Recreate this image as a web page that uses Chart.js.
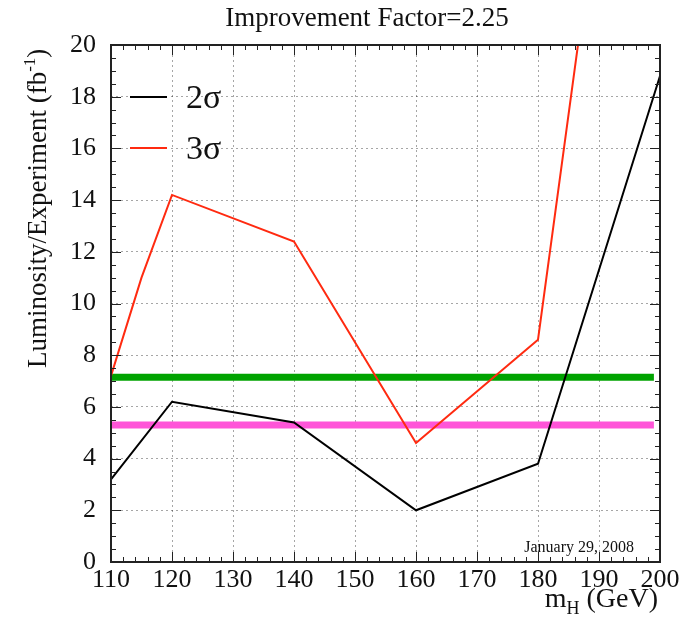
<!DOCTYPE html>
<html>
<head>
<meta charset="utf-8">
<script src="https://cdn.jsdelivr.net/npm/chart.js@4"></script>
<style>
  html, body { margin: 0; padding: 0; background: #fff; }
  #wrap { width: 691px; height: 619px; }
</style>
</head>
<body>
<div id="wrap"><canvas id="plot"></canvas></div>
<script>
// Higgs mass points (GeV) and luminosity per experiment (fb^-1)
const mass2 = [110, 120, 140, 160, 180, 200];
const lumi2 = [3.2, 6.2, 5.4, 2.0, 3.8, 18.8];
const mass3 = [110, 115, 120, 140, 160, 180, 190];
const lumi3 = [7.2, 11.0, 14.2, 12.4, 4.6, 8.6, 26.0];
const levelRange = [110, 199];
const greenLevel = 7.15;
const pinkLevel = 5.3;
const xTicks = [110, 120, 130, 140, 150, 160, 170, 180, 190, 200];
const yTicks = [0, 2, 4, 6, 8, 10, 12, 14, 16, 18, 20];

const SERIF = '"Liberation Serif", "DejaVu Serif", serif';

function pts(xs, ys) { return xs.map((x, i) => ({ x: x, y: ys[i] })); }

const decor = {
  id: 'decor',
  afterDraw(chart) {
    const ctx = chart.ctx;
    const a = chart.chartArea;
    const xs = chart.scales.x, ys = chart.scales.y;
    ctx.save();
    ctx.setLineDash([]);
    // inward ticks on all sides
    ctx.strokeStyle = '#222';
    ctx.lineWidth = 1;
    ctx.beginPath();
    for (let v = 110; v <= 200; v += 2) {
      const px = Math.round(xs.getPixelForValue(v)) + 0.5;
      const len = (v % 10 === 0) ? 10 : 5;
      ctx.moveTo(px, a.bottom); ctx.lineTo(px, a.bottom - len);
      ctx.moveTo(px, a.top); ctx.lineTo(px, a.top + len);
    }
    for (let v = 0; v <= 20; v += 0.5) {
      const py = Math.round(ys.getPixelForValue(v)) + 0.5;
      const len = (v % 2 === 0) ? 10 : 5;
      ctx.moveTo(a.left, py); ctx.lineTo(a.left + len, py);
      ctx.moveTo(a.right, py); ctx.lineTo(a.right - len, py);
    }
    ctx.stroke();
    // frame
    ctx.lineWidth = 2;
    ctx.strokeStyle = '#222';
    ctx.strokeRect(a.left, a.top, a.right - a.left, a.bottom - a.top);

    ctx.fillStyle = '#111';
    ctx.textBaseline = 'middle';
    // title
    ctx.font = '27px ' + SERIF;
    ctx.textAlign = 'center';
    ctx.fillText('Improvement Factor=2.25', 367, 19);

    // legend inside the frame
    const ds = chart.data.datasets;
    [0, 1].forEach((k, i) => {
      const y = 97 + i * 51;
      ctx.fillStyle = '#ffffff';
      ctx.fillRect(129, y - 2, 40, 4);
      ctx.strokeStyle = ds[k].borderColor;
      ctx.lineWidth = 2;
      ctx.beginPath(); ctx.moveTo(130, y); ctx.lineTo(167, y); ctx.stroke();
      ctx.fillStyle = '#111';
      ctx.font = '34px ' + SERIF;
      ctx.textAlign = 'left';
      ctx.fillText(ds[k].label, 186, y + 2);
    });

    // date stamp
    ctx.font = '16px ' + SERIF;
    ctx.textAlign = 'right';
    ctx.fillText('January 29, 2008', 634, 548);

    // x axis title with subscript
    ctx.textAlign = 'left';
    const big = '28px ' + SERIF, sub = '18px ' + SERIF;
    ctx.font = big; const wm = ctx.measureText('m').width;
    const wg = ctx.measureText(' (GeV)').width;
    ctx.font = sub; const wh = ctx.measureText('H').width;
    let x0 = 658 - (wm + wh + wg);
    ctx.font = big; ctx.fillText('m', x0, 600);
    ctx.font = sub; ctx.fillText('H', x0 + wm, 609);
    ctx.font = big; ctx.fillText(' (GeV)', x0 + wm + wh, 600);

    // y axis title with superscript
    ctx.translate(46, 368);
    ctx.rotate(-Math.PI / 2);
    ctx.textBaseline = 'alphabetic';
    const yf = '27px ' + SERIF, sf = '17px ' + SERIF;
    ctx.font = yf;
    const s1 = 'Luminosity/Experiment (fb';
    const w1 = ctx.measureText(s1).width;
    ctx.fillText(s1, 0, 0);
    ctx.font = sf;
    ctx.fillText('-1', w1, -11);
    const w2 = ctx.measureText('-1').width;
    ctx.font = yf;
    ctx.fillText(')', w1 + w2, 0);
    ctx.restore();
  }
};

const config = {
  type: 'scatter',
  data: {
    datasets: [
      {
        label: '2σ',
        data: pts(mass2, lumi2),
        showLine: true,
        borderColor: '#000000',
        borderWidth: 2,
        pointRadius: 0,
        clip: 0
      },
      {
        label: '3σ',
        data: pts(mass3, lumi3),
        showLine: true,
        borderColor: '#ff2a10',
        borderWidth: 2,
        pointRadius: 0,
        clip: 0
      },
      {
        label: 'green',
        data: pts(levelRange, [greenLevel, greenLevel]),
        showLine: true,
        borderColor: '#00a300',
        borderWidth: 7,
        borderCapStyle: 'butt',
        pointRadius: 0
      },
      {
        label: 'pink',
        data: pts(levelRange, [pinkLevel, pinkLevel]),
        showLine: true,
        borderColor: '#ff55d8',
        borderWidth: 7,
        borderCapStyle: 'butt',
        pointRadius: 0
      }
    ]
  },
  options: {
    responsive: true,
    maintainAspectRatio: false,
    animation: false,
    layout: { padding: { top: 45, right: 31, left: 0, bottom: 0 } },
    plugins: {
      legend: { display: false },
      tooltip: { enabled: false }
    },
    scales: {
      x: {
        type: 'linear',
        min: 110,
        max: 200,
        afterBuildTicks: (s) => { s.ticks = xTicks.map(v => ({ value: v })); },
        afterFit: (s) => { s.height = 57; },
        ticks: {
          padding: 3,
          color: '#111',
          font: { family: SERIF, size: 26 }
        },
        grid: { color: 'rgba(0,0,0,0.35)', lineWidth: 1, drawTicks: false },
        border: { display: false, dash: [2, 3] }
      },
      y: {
        type: 'linear',
        min: 0,
        max: 20,
        afterBuildTicks: (s) => { s.ticks = yTicks.map(v => ({ value: v })); },
        afterFit: (s) => { s.width = 111; },
        ticks: {
          padding: 15,
          color: '#111',
          font: { family: SERIF, size: 26 }
        },
        grid: { color: 'rgba(0,0,0,0.35)', lineWidth: 1, drawTicks: false },
        border: { display: false, dash: [2, 3] }
      }
    }
  },
  plugins: [decor]
};

new Chart(document.getElementById('plot'), config);
</script>
</body>
</html>
